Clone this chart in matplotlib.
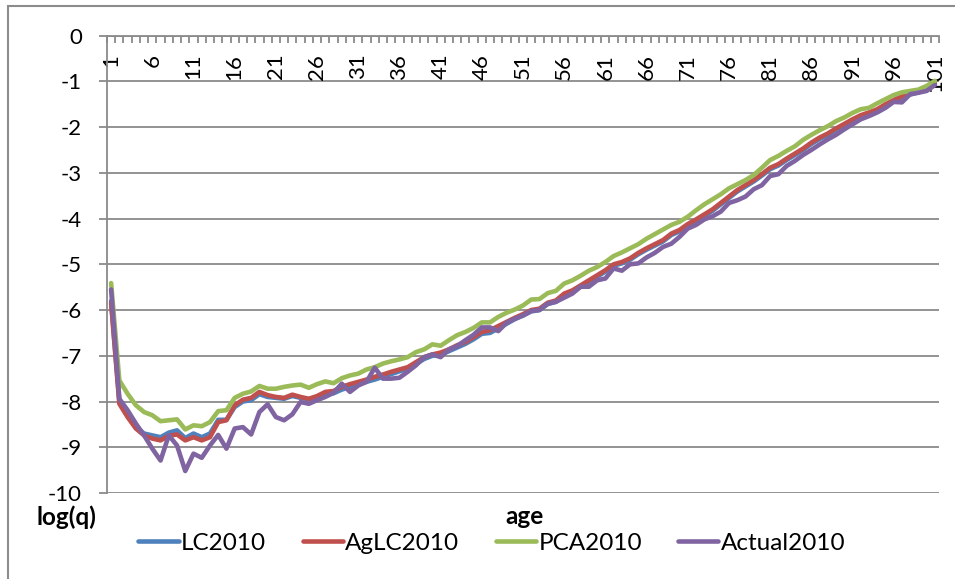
import matplotlib
matplotlib.use("Agg")
import matplotlib.pyplot as plt
from matplotlib.patches import Rectangle
from matplotlib.ticker import FixedLocator

plt.rcParams['font.family'] = ['Lato', 'DejaVu Sans']
plt.rcParams['axes.unicode_minus'] = False

ages = list(range(1, 102))

lc2010 = [-5.80, -8.00, -8.30, -8.55, -8.70, -8.74, -8.78, -8.68, -8.63, -8.80,
          -8.70, -8.78, -8.70, -8.40, -8.40, -8.12, -8.00, -7.97, -7.84, -7.90,
          -7.92, -7.94, -7.88, -7.92, -7.95, -7.92, -7.84, -7.82, -7.74, -7.68,
          -7.62, -7.57, -7.52, -7.46, -7.40, -7.34, -7.28, -7.18, -7.07, -7.00,
          -6.98, -6.90, -6.82, -6.74, -6.64, -6.52, -6.50, -6.40, -6.30, -6.20,
          -6.12, -6.03, -6.00, -5.87, -5.82, -5.67, -5.60, -5.49, -5.38, -5.27,
          -5.16, -5.03, -4.98, -4.90, -4.78, -4.68, -4.59, -4.50, -4.36, -4.28,
          -4.15, -4.05, -3.94, -3.83, -3.69, -3.55, -3.41, -3.30, -3.19, -3.06,
          -2.92, -2.84, -2.72, -2.61, -2.50, -2.37, -2.26, -2.17, -2.06, -1.96,
          -1.86, -1.77, -1.71, -1.64, -1.53, -1.44, -1.35, -1.29, -1.24, -1.17,
          -1.06]

aglc2010 = [-5.85, -8.05, -8.34, -8.59, -8.74, -8.81, -8.85, -8.75, -8.72, -8.85,
            -8.78, -8.85, -8.78, -8.45, -8.41, -8.08, -7.96, -7.92, -7.79, -7.86,
            -7.90, -7.92, -7.85, -7.90, -7.94, -7.88, -7.79, -7.77, -7.68, -7.62,
            -7.57, -7.52, -7.46, -7.41, -7.35, -7.30, -7.25, -7.14, -7.03, -6.97,
            -6.93, -6.86, -6.77, -6.70, -6.59, -6.48, -6.44, -6.35, -6.26, -6.17,
            -6.09, -6.00, -5.97, -5.84, -5.79, -5.64, -5.57, -5.46, -5.35, -5.24,
            -5.13, -5.00, -4.95, -4.87, -4.75, -4.65, -4.56, -4.47, -4.33, -4.25,
            -4.12, -4.02, -3.91, -3.80, -3.66, -3.52, -3.38, -3.27, -3.16, -3.03,
            -2.89, -2.81, -2.69, -2.58, -2.47, -2.34, -2.23, -2.14, -2.03, -1.93,
            -1.83, -1.74, -1.68, -1.61, -1.50, -1.41, -1.32, -1.26, -1.21, -1.14,
            -1.04]

pca2010 = [-5.41, -7.54, -7.83, -8.08, -8.23, -8.30, -8.43, -8.41, -8.39, -8.61,
           -8.52, -8.54, -8.45, -8.21, -8.19, -7.92, -7.83, -7.78, -7.66, -7.72,
           -7.72, -7.68, -7.65, -7.63, -7.70, -7.62, -7.56, -7.60, -7.49, -7.43,
           -7.39, -7.30, -7.25, -7.17, -7.12, -7.08, -7.03, -6.92, -6.86, -6.75,
           -6.78, -6.66, -6.55, -6.48, -6.39, -6.27, -6.27, -6.15, -6.06, -5.99,
           -5.90, -5.77, -5.76, -5.63, -5.58, -5.42, -5.35, -5.25, -5.14, -5.06,
           -4.95, -4.82, -4.74, -4.65, -4.56, -4.44, -4.34, -4.24, -4.14, -4.07,
           -3.96, -3.82, -3.69, -3.58, -3.47, -3.34, -3.25, -3.16, -3.05, -2.89,
           -2.72, -2.63, -2.52, -2.42, -2.28, -2.17, -2.07, -1.98, -1.87, -1.79,
           -1.69, -1.61, -1.58, -1.48, -1.39, -1.30, -1.24, -1.21, -1.18, -1.10,
           -0.99]

actual2010 = [-5.55, -7.94, -8.19, -8.48, -8.74, -9.03, -9.29, -8.74, -8.96, -9.52,
              -9.14, -9.23, -8.96, -8.73, -9.03, -8.59, -8.56, -8.72, -8.23, -8.06,
              -8.34, -8.41, -8.28, -8.01, -8.05, -7.97, -7.90, -7.81, -7.61, -7.79,
              -7.65, -7.57, -7.26, -7.50, -7.50, -7.48, -7.35, -7.21, -7.03, -6.97,
              -7.03, -6.86, -6.79, -6.66, -6.54, -6.38, -6.38, -6.46, -6.28, -6.19,
              -6.12, -6.02, -6.00, -5.86, -5.82, -5.73, -5.64, -5.49, -5.49, -5.35,
              -5.31, -5.09, -5.14, -5.00, -4.98, -4.85, -4.75, -4.62, -4.55, -4.40,
              -4.22, -4.14, -4.02, -3.95, -3.85, -3.66, -3.60, -3.52, -3.36, -3.27,
              -3.07, -3.03, -2.85, -2.74, -2.61, -2.50, -2.38, -2.27, -2.17, -2.05,
              -1.94, -1.83, -1.76, -1.68, -1.58, -1.45, -1.46, -1.28, -1.25, -1.21,
              -1.08]

series = [('LC2010', lc2010, '#4F81BD'),
          ('AgLC2010', aglc2010, '#C0504D'),
          ('PCA2010', pca2010, '#9BBB59'),
          ('Actual2010', actual2010, '#8064A2')]

label_ages = list(range(1, 102, 5))
y_ticks = list(range(-10, 1))

fig = plt.figure(figsize=(9.55, 5.79), dpi=100)
ax = fig.add_axes([107/955, 1-493/579, 832/955, (493-35.6)/579])

# chart area frame
fig.patches.append(Rectangle((8/955, -0.2), 1.2, 1.2 - 6/579, transform=fig.transFigure,
                             fill=False, edgecolor='#8c8c8c', linewidth=1.5))

grid_c = '#8a8a8a'
for y in y_ticks:
    ax.axhline(y, color=grid_c, lw=1.3, zorder=0)

for name, vals, col in series:
    ax.plot(ages, vals, color=col, lw=3.3, label=name, solid_capstyle='round')

ax.set_xlim(0.5, 101.5)
ax.set_ylim(-10, 0)

for s in ['top', 'right']:
    ax.spines[s].set_visible(False)
ax.spines['left'].set_color(grid_c)
ax.spines['left'].set_linewidth(1.3)
ax.spines['bottom'].set_position(('data', 0))
ax.spines['bottom'].set_color(grid_c)
ax.spines['bottom'].set_linewidth(1.3)

ax.set_yticks(y_ticks)
ax.tick_params(axis='y', direction='out', length=6, width=1.3, color=grid_c,
               labelsize=16, pad=12)

ax.xaxis.set_major_locator(FixedLocator(label_ages))
ax.set_xticklabels([str(a) for a in label_ages], rotation=90)
ax.xaxis.set_minor_locator(FixedLocator([a + 0.5 for a in range(0, 102)]))
ax.tick_params(axis='x', which='major', length=0, labelsize=16, pad=13)
ax.tick_params(axis='x', which='minor', direction='out', length=5, width=1.3,
               color=grid_c)

fig.text(66/955, 1-517/579, 'log(q)', fontsize=17.5, fontweight='bold',
         ha='center', va='center')
fig.text(524/955, 1-516/579, 'age', fontsize=17.5, fontweight='bold',
         ha='center', va='center')

fig.legend(loc='center', bbox_to_anchor=(492/955, 1-543/579), ncol=4,
           frameon=False, fontsize=17.5, handlelength=1.65, handletextpad=0.1,
           columnspacing=1.5)

fig.savefig('out.png', dpi=100)
